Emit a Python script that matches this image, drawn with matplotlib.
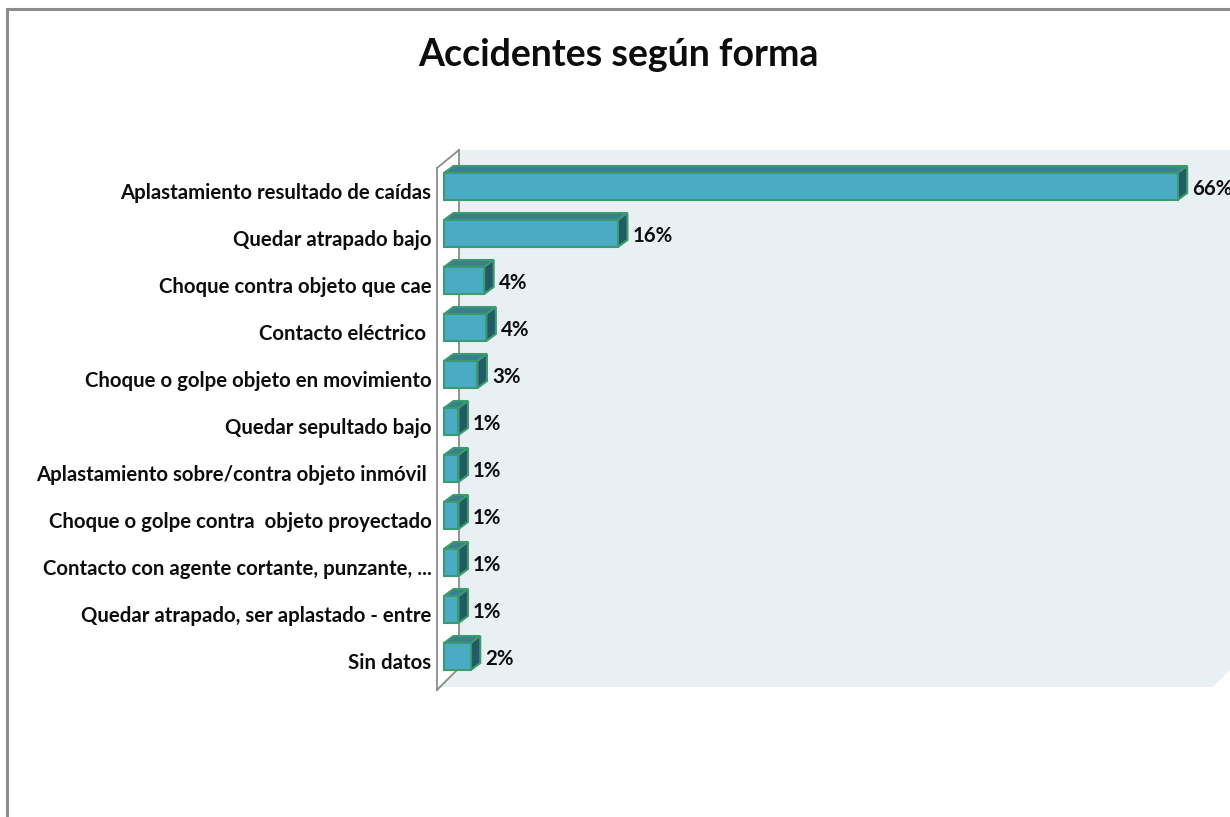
import matplotlib
matplotlib.use("Agg")
import matplotlib.pyplot as plt
from matplotlib.patches import Polygon, Rectangle
import numpy as np

categories = [
    "Aplastamiento resultado de caídas",
    "Quedar atrapado bajo",
    "Choque contra objeto que cae",
    "Contacto eléctrico ",
    "Choque o golpe objeto en movimiento",
    "Quedar sepultado bajo",
    "Aplastamiento sobre/contra objeto inmóvil ",
    "Choque o golpe contra  objeto proyectado",
    "Contacto con agente cortante, punzante, ...",
    "Quedar atrapado, ser aplastado - entre",
    "Sin datos",
]
values = [65.8, 15.6, 3.6, 3.8, 3.0, 1.3, 1.3, 1.3, 1.3, 1.3, 2.4]
title = "Accidentes según forma"

FONT = ["Lato", "DejaVu Sans"]
plt.rcParams["font.family"] = FONT

W, H = 1230, 817
fig = plt.figure(figsize=(W / 100, H / 100), dpi=100)

def fx(px):
    return px / W

def fy(py):
    return 1 - py / H

# chart outer border
fig.patches.append(Rectangle((fx(7), fy(830)), fx(1250) - fx(7), fy(9) - fy(830),
                             transform=fig.transFigure, fill=False,
                             edgecolor="#8c8c8c", lw=2.2, zorder=-3))

# walls (pixel layout)
wall_left_front, wall_left_back = 437, 459
wall_top_back, wall_top_front = 150, 168
wall_bot_back, wall_bot_front = 668, 687
wall_right = 1236
wall_col = "#e9f0f4"
back = Polygon([(fx(wall_left_back), fy(wall_top_back)), (fx(wall_right), fy(wall_top_back)),
                (fx(wall_right), fy(wall_bot_back)), (fx(1232), fy(wall_bot_back)),
                (fx(1213), fy(wall_bot_front)), (fx(wall_left_front), fy(wall_bot_front)),
                (fx(wall_left_back), fy(wall_bot_back))],
               closed=True, transform=fig.transFigure, facecolor=wall_col,
               edgecolor="none", zorder=-2)
fig.patches.append(back)
for (x0, y0, x1, y1) in [(wall_left_back, wall_top_back, wall_left_back, wall_bot_back),
                         (wall_left_front, wall_top_front, wall_left_front, 690),
                         (wall_left_front, wall_top_front, wall_left_back, wall_top_back),
                         (wall_left_front, 690, wall_left_back, wall_bot_back)]:
    fig.add_artist(plt.Line2D([fx(x0), fx(x1)], [fy(y0), fy(y1)], color="#8c8c8c",
                              lw=1.3, transform=fig.transFigure, zorder=-1))

# axes region
ax_l, ax_r, ax_t, ax_b = 437, 1232, 150, 690
ax = fig.add_axes([fx(ax_l), fy(ax_b), fx(ax_r) - fx(ax_l), fy(ax_t) - fy(ax_b)])
ax.set_zorder(2)
ax.patch.set_alpha(0)
for s in ax.spines.values():
    s.set_visible(False)

x0_px = 444
px_per_unit = 11.15
x_min = -(x0_px - ax_l) / px_per_unit
row0_px, row_gap_px = 186.5, 47.0
ax.set_xticks([])

n = len(categories)
ypos = np.arange(n)
bar_h = 27 / row_gap_px
ddx = 9.5 / px_per_unit
ddy = 7 / row_gap_px

front_col = "#4aabc5"
top_col = "#3a7f8d"
side_col = "#245a66"
edge_col = "#3a9c6e"

ax.barh(ypos, values, height=bar_h, left=0, color=front_col,
        edgecolor=edge_col, linewidth=1.5, zorder=3)
ax.set_xlim(x_min, x_min + (ax_r - ax_l) / px_per_unit)
ax.set_ylim((ax_b - row0_px) / row_gap_px, (ax_t - row0_px) / row_gap_px)
for y, v in zip(ypos, values):
    yt = y - bar_h / 2
    yb = y + bar_h / 2
    top = Polygon([(0, yt), (v, yt), (v + ddx, yt - ddy), (ddx, yt - ddy)], closed=True,
                  facecolor=top_col, edgecolor=edge_col, lw=1.5, zorder=2.9)
    side = Polygon([(v, yt), (v, yb), (v + ddx, yb - ddy), (v + ddx, yt - ddy)], closed=True,
                   facecolor=side_col, edgecolor=edge_col, lw=1.5, zorder=2.9)
    ax.add_patch(top)
    ax.add_patch(side)
    ax.annotate(f"{v:.0f}%", xy=(v + ddx, y), xytext=(5, -3), textcoords="offset pixels",
                ha="left", va="center", fontsize=14.7, fontweight="bold",
                color="#0d0d0d", zorder=5, annotation_clip=False)

ax.set_yticks(ypos + 5 / row_gap_px)
ax.set_yticklabels(categories, fontsize=14.7, fontweight="bold", color="#0d0d0d")
ax.tick_params(axis="y", length=0, pad=4)

fig.text(fx(618), fy(55), title, ha="center", va="center", fontsize=27,
         fontweight="bold", color="#0d0d0d")

fig.savefig("out.png", dpi=100)
